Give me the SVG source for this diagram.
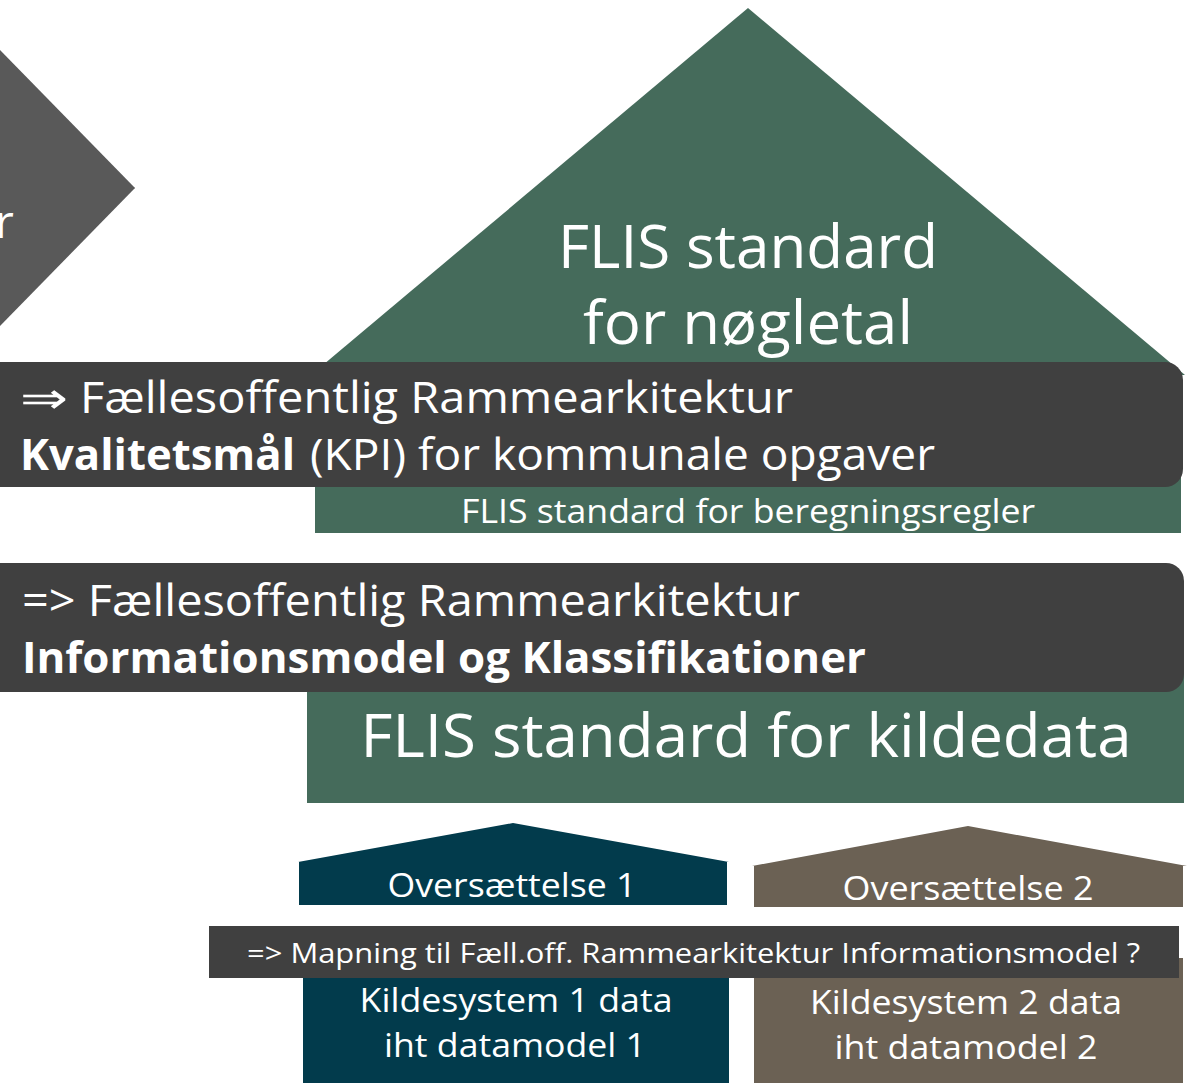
<svg xmlns="http://www.w3.org/2000/svg" width="1192" height="1083" viewBox="0 0 1192 1083">
<style>
text{font-family:"Open Sans",Lato,"Liberation Sans",sans-serif;fill:#ffffff;font-variant-ligatures:none}
.c{text-anchor:middle}
.b{font-weight:bold}
.green{fill:#456b5b}
.dark{fill:#404040}
.teal{fill:#023b4c}
.brown{fill:#6b6154}
</style>
<g id="diamond">
<polygon points="-140,50 135,188 -140,326" fill="#595959"/>
<polygon points="0,50 135,188 0,326" fill="#595959"/>
<text x="-5" y="238" font-size="46">r</text>
</g>
<g id="noegletal">
<polygon class="green" points="748,8 311,375 1185,375"/>
<text class="c" x="748" y="268" font-size="60" textLength="380" lengthAdjust="spacingAndGlyphs">FLIS standard</text>
<text class="c" x="748" y="344" font-size="60" textLength="330" lengthAdjust="spacingAndGlyphs">for nøgletal</text>
</g>
<g id="beregningsregler">
<rect class="green" x="315" y="470" width="866" height="63"/>
<text class="c" x="748" y="523" font-size="32" textLength="574" lengthAdjust="spacingAndGlyphs">FLIS standard for beregningsregler</text>
</g>
<g id="kpi-bar">
<rect class="dark" x="-20" y="362" width="1203" height="125" rx="18"/>
<text x="20" y="413" font-size="43" textLength="48" lengthAdjust="spacingAndGlyphs">⇒</text>
<text x="80" y="413" font-size="43" textLength="713" lengthAdjust="spacingAndGlyphs">Fællesoffentlig Rammearkitektur</text>
<text class="b" x="20" y="470" font-size="43" textLength="275" lengthAdjust="spacingAndGlyphs">Kvalitetsmål</text>
<text x="310" y="470" font-size="43" textLength="625" lengthAdjust="spacingAndGlyphs">(KPI) for kommunale opgaver</text>
</g>
<g id="kildedata">
<rect class="green" x="307" y="670" width="877" height="133"/>
<text class="c" x="746" y="757" font-size="60" textLength="771" lengthAdjust="spacingAndGlyphs">FLIS standard for kildedata</text>
</g>
<g id="info-bar">
<rect class="dark" x="-20" y="563" width="1204" height="129" rx="18"/>
<text x="22" y="616" font-size="43" textLength="778" lengthAdjust="spacingAndGlyphs">=&gt; Fællesoffentlig Rammearkitektur</text>
<text class="b" x="22" y="673" font-size="43" textLength="844" lengthAdjust="spacingAndGlyphs">Informationsmodel og Klassifikationer</text>
</g>
<g id="oversaettelse1">
<polygon class="teal" points="513,823 298,862 299,862 299,905 727,905 727,862 729,862"/>
<text class="c" x="512" y="897" font-size="33" textLength="249" lengthAdjust="spacingAndGlyphs">Oversættelse 1</text>
</g>
<g id="oversaettelse2">
<polygon class="brown" points="968,826 752,866 754,866 754,907 1183,907 1183,866 1187,866"/>
<text class="c" x="968" y="900" font-size="33" textLength="251" lengthAdjust="spacingAndGlyphs">Oversættelse 2</text>
</g>
<g id="kildesystem1">
<rect class="teal" x="303" y="960" width="426" height="123"/>
<text class="c" x="516" y="1012" font-size="33" textLength="313" lengthAdjust="spacingAndGlyphs">Kildesystem 1 data</text>
<text class="c" x="515" y="1057" font-size="33" textLength="262" lengthAdjust="spacingAndGlyphs">iht datamodel 1</text>
</g>
<g id="kildesystem2">
<rect class="brown" x="754" y="958" width="429" height="125"/>
<text class="c" x="966" y="1014" font-size="33" textLength="312" lengthAdjust="spacingAndGlyphs">Kildesystem 2 data</text>
<text class="c" x="966" y="1059" font-size="33" textLength="263" lengthAdjust="spacingAndGlyphs">iht datamodel 2</text>
</g>
<g id="mapning-bar">
<rect class="dark" x="209" y="926" width="970" height="52"/>
<text x="247" y="963" font-size="27" textLength="893" lengthAdjust="spacingAndGlyphs">=&gt; Mapning til Fæll.off. Rammearkitektur Informationsmodel ?</text>
</g>
<g id="connectors"/>
</svg>
